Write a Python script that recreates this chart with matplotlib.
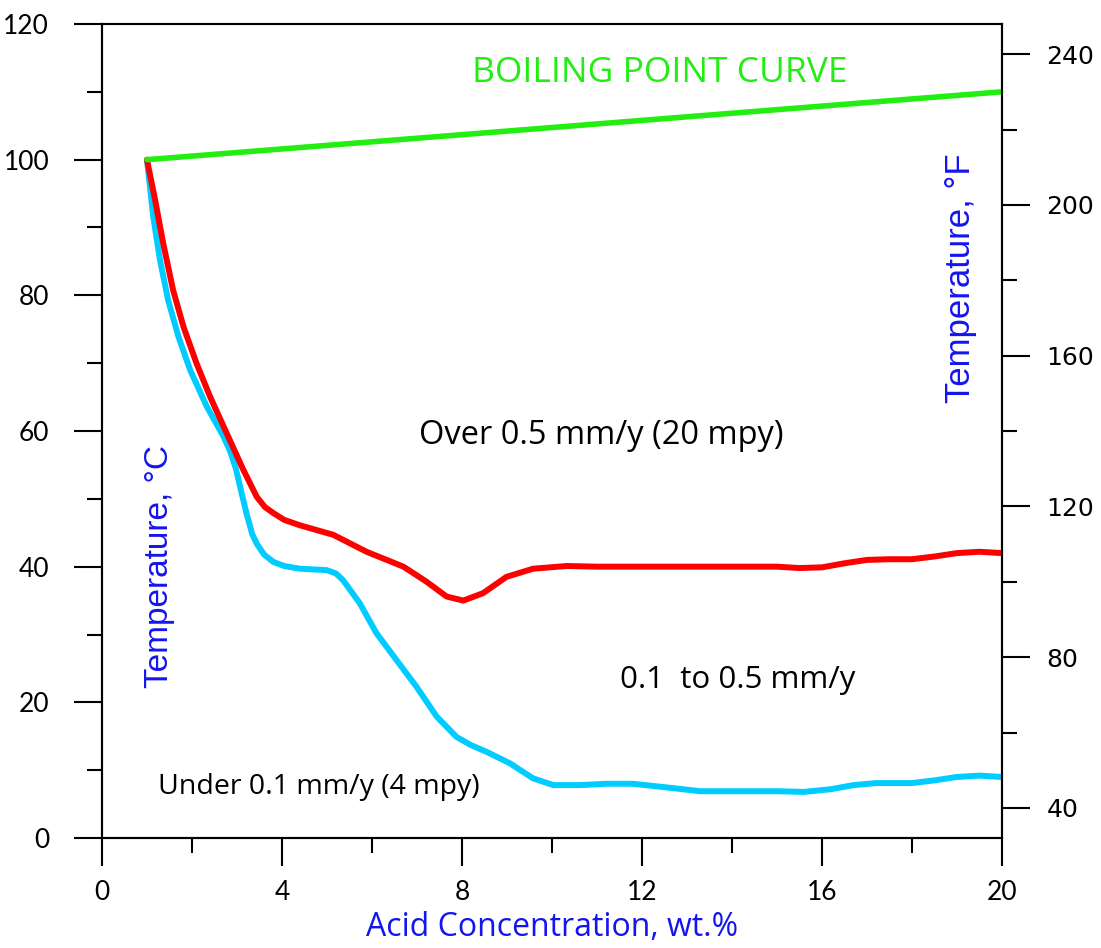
import numpy as np
import matplotlib
matplotlib.use("Agg")
import matplotlib.pyplot as plt
from matplotlib.ticker import MultipleLocator

# boiling point curve (wt.% , deg C)
boil_x = [1, 20]
boil_t = [100, 110]

# 0.5 mm/y iso-corrosion line
red_x = [1.0, 1.18, 1.36, 1.58, 1.81, 2.10, 2.40, 2.77, 3.14, 3.44, 3.62, 3.81, 4.05, 4.40,
         5.14, 5.88, 6.70, 7.21, 7.66, 8.03, 8.47, 8.99, 9.58, 10.33, 11, 12, 13, 14,
         15, 15.5, 16, 16.5, 17, 17.5, 18, 18.5, 19, 19.5, 20]
red_t = [100, 94.1, 87.7, 80.8, 75.4, 70.0, 65.1, 59.7, 54.3, 50.3, 48.8, 47.9, 46.9, 46.1,
         44.7, 42.2, 40.0, 37.8, 35.6, 35.0, 36.1, 38.5, 39.7, 40.1, 40, 40, 40, 40,
         40, 39.8, 39.9, 40.5, 41.0, 41.1, 41.1, 41.5, 42.0, 42.2, 42]

# 0.1 mm/y iso-corrosion line
cyan_x = [1.0, 1.14, 1.29, 1.47, 1.70, 1.96, 2.33, 2.70, 2.85, 2.97, 3.07, 3.21, 3.34, 3.44,
          3.6, 3.81, 4.05, 4.40, 4.99, 5.2, 5.36, 5.73, 6.10, 6.55, 6.99, 7.44, 7.88,
          8.2, 8.55, 9.07, 9.58, 10.03, 10.62, 11.2, 11.8, 12.5, 13.3, 14, 15, 15.6,
          16.2, 16.7, 17.2, 18, 18.5, 19, 19.5, 20]
cyan_t = [100, 91.6, 85.2, 79.3, 73.9, 69.0, 63.6, 59.2, 57.0, 54.6, 51.8, 47.9, 44.8, 43.4,
          41.8, 40.7, 40.1, 39.7, 39.5, 39.0, 38.0, 34.6, 30.2, 26.2, 22.3, 17.9, 14.9,
          13.7, 12.7, 11.0, 8.8, 7.8, 7.8, 8.0, 8.0, 7.5, 6.9, 6.9, 6.9, 6.8,
          7.2, 7.8, 8.1, 8.1, 8.5, 9.0, 9.2, 9.0]

gill = "Open Sans"
arial = "Liberation Sans"
blue = "#1414f0"
green = "#22ee11"

fig = plt.figure(figsize=(11.01, 9.48), dpi=100)
ax = fig.add_axes([0.0926, 0.116, 0.8174, 0.8587])

ax.plot(boil_x, boil_t, color=green, lw=4, solid_capstyle="round", zorder=3)
ax.plot(cyan_x, cyan_t, color="#00ccff", lw=4.3, solid_capstyle="round", solid_joinstyle="round")
ax.plot(red_x, red_t, color="#ff0000", lw=4.3, solid_capstyle="round", solid_joinstyle="round")

ax.set_xlim(0, 20)
ax.set_ylim(0, 120)
ax.xaxis.set_major_locator(MultipleLocator(4))
ax.xaxis.set_minor_locator(MultipleLocator(2))
ax.yaxis.set_major_locator(MultipleLocator(20))
ax.yaxis.set_minor_locator(MultipleLocator(10))

for s in ax.spines.values():
    s.set_linewidth(1.5)
ax.tick_params(which="major", direction="out", length=20, width=1.5, labelsize=19, pad=10)
ax.tick_params(which="minor", direction="out", length=11, width=1.5)
ax.tick_params(axis="y", which="major", pad=18)
for lab in ax.get_xticklabels() + ax.get_yticklabels():
    lab.set_fontfamily("Lato")

# fahrenheit axis on the right
ax2 = ax.twinx()
ax2.set_ylim(0 * 1.8 + 32, 120 * 1.8 + 32)
ax2.yaxis.set_major_locator(MultipleLocator(40))
ax2.yaxis.set_minor_locator(MultipleLocator(20))
ax2.tick_params(which="major", direction="out", length=20, width=1.5, labelsize=18, pad=12)
ax2.tick_params(which="minor", direction="out", length=11, width=1.5)
for s in ax2.spines.values():
    s.set_linewidth(1.5)

# x label sits right on the bottom edge, as in the original
fig.text(0.5015, 0.004, "Acid Concentration, wt.%", color=blue, fontsize=23, family=gill,
         ha="center", va="bottom")

ax.text(12.4, 112.8, "BOILING POINT CURVE", color=green, fontsize=25.5, family=gill,
        ha="center", va="center")
ax.text(11.09, 59.4, "Over 0.5 mm/y (20 mpy)", fontsize=23.5, family=gill, ha="center", va="center")
ax.text(14.13, 23.3, "0.1  to 0.5 mm/y", fontsize=22.5, family=gill, ha="center", va="center")
ax.text(4.82, 7.5, "Under 0.1 mm/y (4 mpy)", fontsize=20.5, family=gill, ha="center", va="center")
ax.text(1.29, 40, "Temperature, °C", color=blue, fontsize=24, family=arial, rotation=90,
        ha="center", va="center")
ax.text(19.07, 82.6, "Temperature, °F", color=blue, fontsize=25, family=arial, rotation=90,
        ha="center", va="center")

fig.savefig("out.png", dpi=100)
